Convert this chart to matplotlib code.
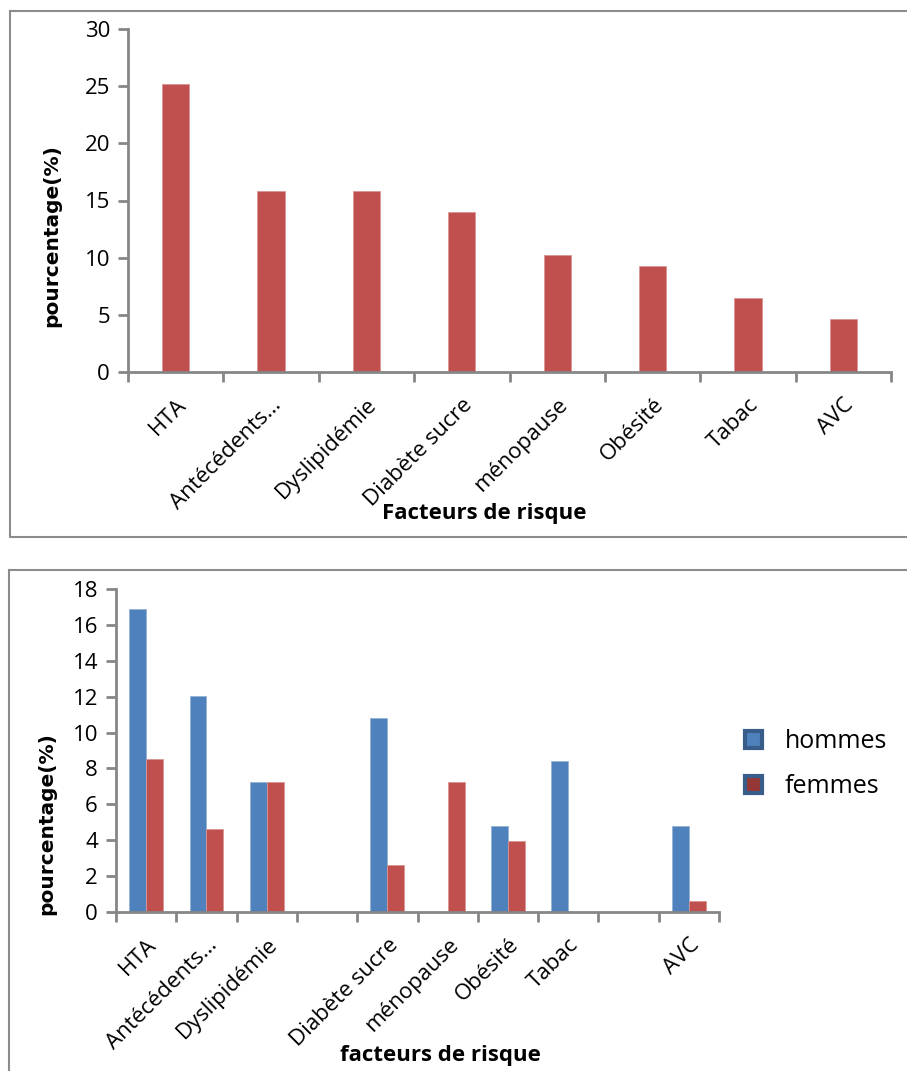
import numpy as np
import matplotlib
matplotlib.use("Agg")
import matplotlib.pyplot as plt
from matplotlib.patches import Patch
from matplotlib.lines import Line2D

# ---- data ----
top_categories = ["HTA", "Antécédents…", "Dyslipidémie", "Diabète sucre",
                  "ménopause", "Obésité", "Tabac", "AVC"]
top_values = [25.2, 15.8, 15.8, 14.0, 10.2, 9.3, 6.5, 4.6]

bottom_categories = ["HTA", "Antécédents…", "Dyslipidémie", "", "Diabète sucre",
                     "ménopause", "Obésité", "Tabac", "", "AVC"]
hommes = [16.87, 12.02, 7.22, 0, 10.83, 0, 4.79, 8.40, 0, 4.79]
femmes = [8.55, 4.60, 7.25, 0, 2.62, 7.25, 3.93, 0, 0, 0.61]
series_labels = ["hommes", "femmes"]

BLUE = "#4F81BD"
RED = "#C0504D"
GRAY = "#868686"
W, H = 907, 1071

plt.rcParams['font.family'] = ['Open Sans', 'DejaVu Sans']

fig = plt.figure(figsize=(W / 100, H / 100), dpi=100)

def rect(l, t, r, b):
    return [l / W, 1 - b / H, (r - l) / W, (b - t) / H]

TICK_FS = 16

def style_axes(ax, n):
    for s in ("top", "right"):
        ax.spines[s].set_visible(False)
    for s in ("left", "bottom"):
        ax.spines[s].set_color(GRAY)
        ax.spines[s].set_linewidth(2)
    ax.set_xlim(-0.5, n - 0.5)
    ax.set_xticks(np.arange(n))
    ax.set_xticks(np.arange(n + 1) - 0.5, minor=True)
    ax.tick_params(axis='x', which='major', length=0, pad=16)
    ax.tick_params(axis='x', which='minor', length=7, width=2, color=GRAY, direction='out')
    ax.tick_params(axis='y', length=7, width=2, color=GRAY, labelsize=TICK_FS, pad=6)

title_font = dict(family=['Liberation Sans Narrow', 'Open Sans', 'DejaVu Sans'],
                  fontweight='bold', fontsize=16)
ylab_font = dict(family=['DejaVu Sans'], fontweight='bold', fontsize=14.5)

# ---- top chart ----
ax1 = fig.add_axes(rect(128, 29, 891, 372))
x1 = np.arange(len(top_categories))
ax1.bar(x1, top_values, width=0.285, color=RED, edgecolor='#d99694', linewidth=0.6)
style_axes(ax1, len(top_categories))
ax1.set_ylim(0, 30)
ax1.set_yticks(np.arange(0, 31, 5))
ax1.set_xticklabels(top_categories, rotation=45, ha='right', rotation_mode='anchor',
                    fontsize=TICK_FS)
fig.text(52 / W, 1 - 236 / H, "pourcentage(%)", rotation=90, ha='center', va='center',
         **ylab_font)
fig.text(484 / W, 1 - 513 / H, "Facteurs de risque", ha='center', va='center', **title_font)

# ---- bottom chart ----
ax2 = fig.add_axes(rect(116, 589, 719, 912))
x2 = np.arange(len(bottom_categories))
bw = 0.28
ax2.bar(x2 - bw / 2, hommes, width=bw, color=BLUE, edgecolor='#95b3d7', linewidth=0.6,
        label=series_labels[0])
ax2.bar(x2 + bw / 2, femmes, width=bw, color=RED, edgecolor='#d99694', linewidth=0.6,
        label=series_labels[1])
style_axes(ax2, len(bottom_categories))
ax2.set_ylim(0, 18)
ax2.set_yticks(np.arange(0, 19, 2))
ax2.set_xticklabels(bottom_categories, rotation=45, ha='right', rotation_mode='anchor',
                    fontsize=TICK_FS)
fig.text(47 / W, 1 - 824 / H, "pourcentage(%)", rotation=90, ha='center', va='center',
         **ylab_font)
fig.text(440 / W, 1 - 1055 / H, "facteurs de risque", ha='center', va='center', **title_font)

handles = [Patch(facecolor=BLUE, edgecolor='#385D8A', linewidth=3),
           Patch(facecolor='#953735', edgecolor='#385D8A', linewidth=3)]
fig.legend(handles, series_labels, loc='center left',
           bbox_to_anchor=(722 / W, 1 - 764 / H), frameon=False,
           prop={'family': ['Open Sans', 'DejaVu Sans'], 'size': 18},
           handlelength=0.7, handleheight=0.7, handletextpad=0.9, labelspacing=0.8)

# ---- outer frames ----
def frame(l, t, r, b):
    xs = [l, r, r, l, l]
    ys = [t, t, b, b, t]
    fig.add_artist(Line2D([v / W for v in xs], [1 - v / H for v in ys],
                          color='#8c8c8c', linewidth=1.5))

frame(10, 11, 930, 537)
frame(9, 570, 930, 1090)

fig.savefig("out.png", dpi=100)
